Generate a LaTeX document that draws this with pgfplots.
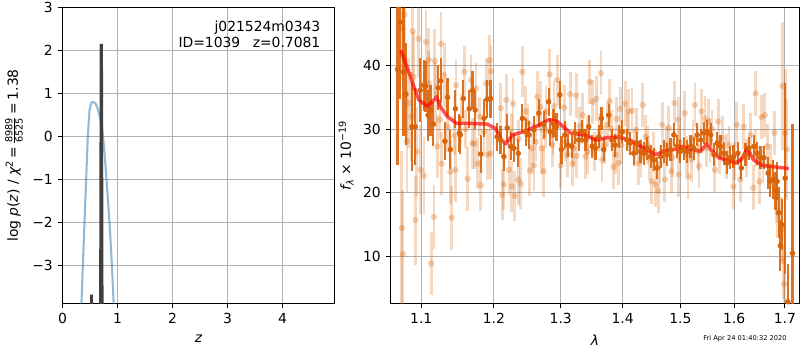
\documentclass[border=0pt]{standalone}
\usepackage{fontspec}
\setmainfont{DejaVu Sans}
\usepackage{pgfplots}
\pgfplotsset{compat=1.18}
\usepackage{pgfplotstable}
\definecolor{dorange}{RGB}{217,100,10}
\definecolor{mblue}{RGB}{31,119,180}
\definecolor{gridgray}{RGB}{176,176,176}

\pgfplotstableread{
x y e
1.0692 39.4 15
1.0727 46.8 12
1.0770 39.0 10
1.0800 35.5 8
1.0878 30.4 7
1.0922 30.4 6
1.0987 36.1 5
1.1032 36.9 4
1.1055 36.7 4
1.1091 32.2 4
1.1124 33.0 4
1.1160 30.8 3.5
1.1224 36.5 3.5
1.1262 37.6 3.5
1.1317 28.1 3
1.1353 35.0 3
1.1390 26.8 3
1.1459 33.2 3
1.1514 29.4 3
1.1527 29.1 3
1.1569 34.8 3
1.1651 33.2 3
1.1697 36.1 3
1.1734 33.0 3
1.1812 26.1 3
1.1858 31.7 3
1.1904 34.7 3
1.1950 34.8 3
1.2045 28.8 2.2
1.2095 28.3 2.2
1.2144 25.7 2.2
1.2193 30.2 2.2
1.2243 27.3 2.2
1.2292 27.0 2.2
1.2356 26.2 2.2
1.2416 31.7 2.2
1.2466 29.6 2.2
1.2515 29.1 2.2
1.2589 29.9 2.2
1.2663 32.5 2.2
1.2737 30.7 2.2
1.2812 34.3 2.2
1.2837 29.6 2.2
1.2886 30.9 2.2
1.2935 30.4 2.2
1.2985 35.4 2.2
1.3010 26.8 2.2
1.3065 29.1 2.2
1.3118 27.5 1.8
1.3172 27.3 1.8
1.3227 29.4 1.8
1.3281 28.3 1.8
1.3334 29.6 1.8
1.3390 28.3 1.8
1.3443 30.4 1.8
1.3497 27.3 1.8
1.3552 27.0 1.8
1.3605 28.8 1.8
1.3649 31.7 1.8
1.3687 26.8 1.8
1.3768 32.2 1.8
1.3821 28.3 1.8
1.3877 27.5 1.8
1.3942 28.8 1.8
1.3995 29.6 1.8
1.4070 28.3 1.8
1.4129 27.8 1.8
1.4186 26.2 1.8
1.4244 27.8 1.8
1.4303 26.5 1.8
1.4361 26.2 1.8
1.4418 27.0 1.8
1.4477 25.7 1.8
1.4535 25.2 1.8
1.4592 23.9 1.8
1.4652 25.7 1.8
1.4709 26.5 1.8
1.4767 26.0 1.8
1.4826 26.8 1.8
1.4884 29.1 1.8
1.4941 27.3 1.8
1.5000 26.5 1.8
1.5061 27.0 1.8
1.5122 26.5 1.8
1.5185 27.3 1.8
1.5246 27.0 1.8
1.5307 29.1 1.8
1.5370 28.3 1.8
1.5431 29.4 1.8
1.5492 29.6 1.8
1.5555 29.1 1.8
1.5616 26.0 1.8
1.5677 27.8 1.8
1.5740 27.3 1.8
1.5801 26.2 1.8
1.5862 24.7 1.8
1.5925 25.5 1.8
1.5987 25.7 1.8
1.6071 26.2 1.8
1.6138 23.9 1.8
1.6217 26.0 1.8
1.6283 27.0 1.8
1.6381 27.3 1.8
1.6447 26.2 1.8
1.6514 25.5 1.8
1.6579 25.5 1.8
1.6664 23.1 2.5
1.6698 21.8 2.5
1.6763 22.1 3
1.6810 20.3 3
1.6842 21.8 3
1.6876 16.9 4
1.6909 11.7 4
1.6941 15.0 4
1.7008 22.3 15
1.7061 2.9 5.9
1.7157 10.5 20.3
}\dark

\pgfplotstableread{
x y e
1.0748 14.5 12
1.0761 10.4 10
1.0783 48.0 8
1.0757 45.8 8
1.0887 45.4 7
1.0965 44.2 6
1.1063 43.7 5
1.1262 43.4 5
1.1101 40.9 5
1.1179 40.7 5
1.0813 28.1 8
1.0943 26.5 7
1.0995 23.6 7
1.1036 22.7 6
1.0926 15.7 7
1.1169 16.2 5
1.1132 8.9 5
1.1408 16.1 5
1.1270 24.6 5
1.1390 23.3 5
1.1459 23.6 5
1.1628 22.2 5
1.1215 27.3 5
1.0835 34.1 7
1.0900 38.2 7
1.1101 37.2 5
1.1193 35.4 5
1.1307 38.5 5
1.1468 36.9 4
1.1537 31.5 4
1.1582 39.0 4
1.1675 37.7 4
1.1353 30.4 4
1.0870 32.0 7
1.1697 27.8 4
1.1744 36.4 4
1.1766 24.6 4
1.1812 21.2 4
1.1890 37.2 4
1.1936 40.8 4
1.1958 39.1 4
1.1913 26.0 4
1.1950 26.2 4
1.1720 27.7 4
1.1858 29.6 4
1.2119 19.7 4
1.2144 21.3 4
1.2218 23.6 4
1.2258 21.0 4
1.2303 19.5 4
1.2356 22.1 4
1.2392 21.4 4
1.2178 34.6 4
1.2277 34.0 4
1.2099 33.3 4
1.2416 39.0 4
1.2466 32.8 4
1.2526 23.5 4
1.2589 24.3 4
1.2638 35.1 4
1.2689 33.5 4
1.2737 23.4 4
1.2772 32.8 4
1.2827 38.6 4
1.2564 27.0 4
1.2708 27.0 4
1.2945 37.7 4
1.2896 33.6 4
1.3054 33.4 3.5
1.3146 35.5 3.5
1.3243 35.3 3.5
1.3459 37.4 3.5
1.3642 38.8 3.5
1.3565 34.8 3.5
1.3508 34.3 3.5
1.3784 34.4 3.5
1.3903 31.6 3.5
1.3958 33.2 3.5
1.4042 34.0 3.5
1.3000 24.3 3.5
1.3183 24.6 3.5
1.3253 25.8 3.5
1.3345 32.2 3.5
1.3389 25.7 3.5
1.3659 25.2 3.5
1.3849 24.1 3.5
1.3930 24.7 3.5
1.2870 27.5 3.5
1.3107 26.0 3.5
1.3427 26.5 3.5
1.3742 30.7 3.5
1.4099 32.8 3.5
1.4343 33.8 3.5
1.4157 32.9 3.5
1.4227 29.9 3.5
1.4390 28.8 3.5
1.4495 21.8 3.5
1.4564 21.3 3.5
1.4610 20.3 3.5
1.4679 30.7 3.5
1.4726 22.1 3.5
1.4796 30.2 3.5
1.4896 34.1 3.5
1.4962 31.5 3.5
1.4970 22.9 3.5
1.5080 32.5 3.5
1.5141 22.6 3.5
1.5265 33.8 3.5
1.5385 32.8 3.5
1.5450 31.7 3.5
1.5513 31.2 3.5
1.4273 24.7 3.5
1.4447 25.5 3.5
1.4840 23.4 3.5
1.5204 25.2 3.5
1.5339 24.2 3.5
1.5542 28.3 3.5
1.5696 31.2 3.5
1.5634 23.6 3.5
1.5771 28.6 3.5
1.5849 25.7 3.5
1.5987 21.0 3.5
1.6051 30.7 3.5
1.6119 22.1 3.5
1.6184 30.4 3.5
1.6316 29.1 3.5
1.6415 35.6 3.5
1.6368 20.8 3.5
1.6534 31.9 3.5
1.6599 32.2 3.5
1.6645 27.3 3.5
1.6490 21.8 3.5
1.6711 24.2 3.5
1.6826 19.2 4
1.6856 16.9 4
1.6955 36.8 10
1.7008 29.4 10
1.7041 26.8 8
1.6935 14.3 5
1.6965 9.3 6
1.6986 5.7 6
1.6789 29.4 3.5
1.3080 28.0 3
1.3200 27.0 3
1.3300 30.5 3
1.3420 29.0 3
1.3530 26.5 3
1.3620 29.5 3
1.3700 27.5 3
1.3810 30.0 3
1.3880 26.0 3
1.3980 27.5 3
1.4080 29.5 3
1.4200 27.0 3
1.4310 25.5 3
1.4420 27.5 3
1.4530 26.5 3
1.4640 24.5 3
1.4750 27.5 3
1.4860 25.5 3
1.4990 28.0 3
1.5110 26.0 3
1.5230 28.5 3
1.5320 26.5 3
1.5480 27.0 3
1.5580 30.0 3
1.5720 26.0 3
1.5900 27.5 3
1.6000 25.0 3
1.6230 25.5 3
1.6420 27.0 3
1.6560 24.5 3
1.2250 29.5 3
1.2360 28.5 3
1.2500 31.0 3
1.2620 28.0 3
1.2760 30.0 3
1.2880 29.0 3
1.1600 30.0 3
1.1800 32.0 3
1.1450 29.0 3
1.1250 31.5 3
}\light

\pgfplotsset{
  mpl/.style={
    scale only axis, anchor=south west,
    axis line style={line width=0.8pt, black},
    every tick/.style={line width=0.8pt, black},
    major tick length=3.5pt,
    tick align=outside,
    xtick pos=left, ytick pos=left,
    grid=major, major grid style={gridgray, line width=0.8pt},
    tick label style={font=\fontsize{10}{12}\selectfont},
    label style={font=\fontsize{10}{12}\selectfont},
    /pgf/number format/assume math mode=true,
  }
}

\begin{document}
\begin{tikzpicture}[x=1pt,y=1pt]
\path[use as bounding box] (0,0) rectangle (576,252);

\begin{axis}[mpl, at={(45.0pt,33.48pt)}, width=195.84pt, height=213.12pt,
  xmin=0, xmax=4.945, ymin=-3.884, ymax=3,
  xtick={0,1,2,3,4}, ytick={-3,-2,-1,0,1,2,3},
  yticklabels={−3,−2,−1,0,1,2,3},
  xlabel={\itshape z},
  xlabel style={yshift=-1.5pt},
  ylabel={log {\itshape p}({\itshape z}) / {\itshape χ}\textsuperscript{2}\,=\,$\frac{\mbox{\fontsize{7}{7}\selectfont 8989}}{\mbox{\fontsize{7}{7}\selectfont 6525}}$\,=\,1.38},
]
\addplot[mblue, opacity=0.5, line width=1.5pt, line join=round] coordinates {
(0.320,-4.6) (0.345,-3.88) (0.37,-3.0) (0.40,-2.0) (0.43,-1.0) (0.46,0.0) (0.49,0.6)
(0.52,0.77) (0.545,0.81) (0.60,0.77) (0.64,0.65) (0.68,0.46) (0.727,0.14)
(0.77,-0.48) (0.81,-1.18) (0.86,-2.11) (0.90,-3.04) (0.93,-3.88) (0.95,-4.5)};
\addplot[black!75, line width=2pt] coordinates {
(0.50,-10) (0.524,-10) (0.527,-3.68) (0.530,-10) (0.68,-10) (0.702,2.12) (0.710,2.12) (0.732,-10) (0.80,-10)};
\node[anchor=north east, align=right, font=\fontsize{10}{11.5}\selectfont, inner sep=0pt]
  at (rel axis cs:0.949,0.956) {j021524m0343\\ID=1039\hspace{0.9em}z=0.7081};
\end{axis}

\begin{axis}[mpl, at={(281.16pt,33.48pt)}, width=294.48pt, height=213.12pt,
  xmode=log, xmin=1.0603, xmax=1.7302, ymin=2.62, ymax=49.11,
  xtick={1.1,1.2,1.3,1.4,1.5,1.6,1.7},
  xticklabels={1.1,1.2,1.3,1.4,1.5,1.6,1.7},
  xminorticks=false,
  ytick={10,20,30,40},
  xlabel={\itshape λ},
  xlabel style={yshift=-1.5pt},
  ylabel={{\itshape f}\textsubscript{\itshape λ} × 10\textsuperscript{−19}},
]
\addplot[only marks, mark=*, mark size=2.3pt, color=dorange,
  every mark/.append style={draw opacity=0, fill opacity=0.3},
  error bars/.cd, y dir=both, y explicit, error mark=none,
  error bar style={line width=2pt, dorange, draw opacity=0.25}]
  table[x=x, y=y, y error=e] {\light};
\addplot[only marks, mark=*, mark size=2pt, color=dorange,
  every mark/.append style={draw opacity=0, fill opacity=1},
  error bars/.cd, y dir=both, y explicit, error mark=none,
  error bar style={line width=1.6pt, dorange, draw opacity=0.9}]
  table[x=x, y=y, y error=e] {\dark};
\addplot[red, opacity=0.68, line width=2.5pt, line join=round] coordinates {
(1.0735,42.4) (1.0860,38.2) (1.0968,34.6) (1.1079,33.6) (1.1146,34.3) (1.1203,35.1)
(1.1257,33.5) (1.1348,32.0) (1.1475,30.9) (1.1669,30.9) (1.1905,30.8) (1.2024,30.1)
(1.2106,28.3) (1.2179,27.7) (1.2267,29.1) (1.2438,29.6) (1.2639,30.5) (1.2816,31.5)
(1.2946,31.2) (1.3154,29.4) (1.3365,29.1) (1.3560,28.3) (1.3751,28.7) (1.3966,28.7)
(1.4163,28.1) (1.4361,27.0) (1.4564,26.0) (1.4709,26.5) (1.4886,26.8) (1.5037,27.3)
(1.5187,26.9) (1.5370,26.5) (1.5480,27.7) (1.5586,26.5) (1.5710,25.5) (1.5869,25.1)
(1.6028,24.7) (1.6137,25.2) (1.6254,27.0) (1.6371,25.2) (1.6548,24.3) (1.6780,24.1)
(1.7083,23.8)};
\end{axis}

\node[font=\fontsize{4.8}{5}\selectfont] at (536.4,8) {Fri Apr 24 01:40:32 2020};
\end{tikzpicture}
\end{document}
